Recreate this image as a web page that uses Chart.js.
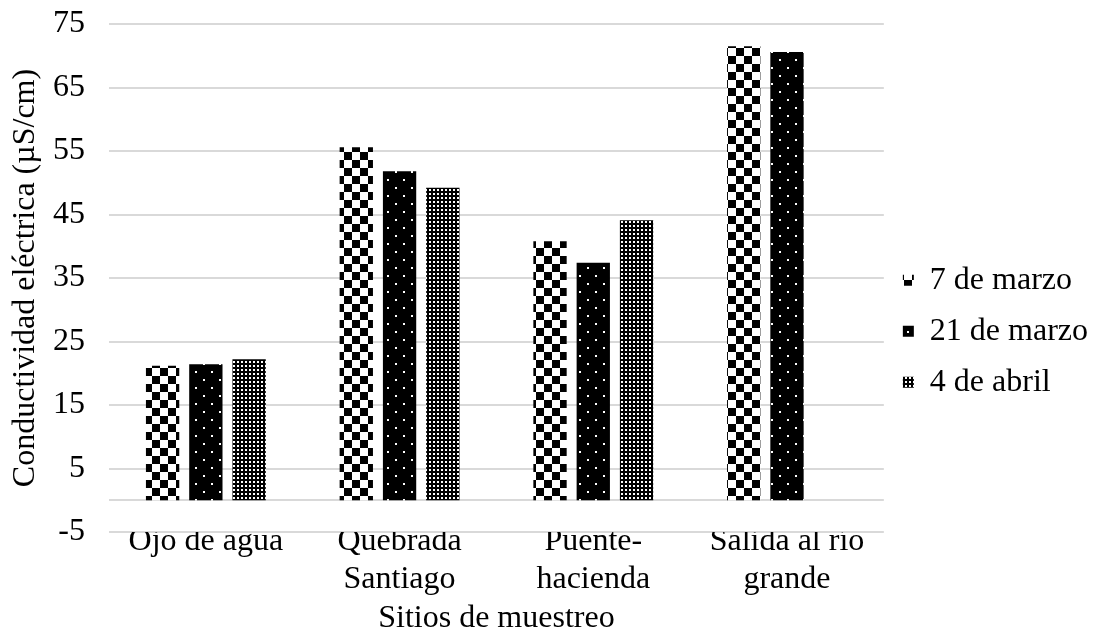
<!DOCTYPE html>
<html>
<head>
<meta charset="utf-8">
<script src="https://cdn.jsdelivr.net/npm/chart.js@4.4.1/dist/chart.umd.min.js"></script>
<style>
  html, body { margin: 0; padding: 0; background: #ffffff; }
  canvas { display: block; }
</style>
</head>
<body>
<canvas id="chart" width="1098" height="634"></canvas>
<script>
// Sampling sites along the stream
const sites = ['Ojo de agua', ['Quebrada', 'Santiago'], ['Puente-', 'hacienda'], ['Salida al río', 'grande']];

// Electrical conductivity (µS/cm) per sampling date
const march7 = [21.2, 55.6, 40.8, 71.5];
const march21 = [21.4, 51.8, 37.4, 70.6];
const april4 = [22.2, 49.2, 44.1, null];
const seriesNames = ['7 de marzo', '21 de marzo', '4 de abril'];

// Value axis range and tick step
const yMin = -5;
const yMax = 75;
const yStep = 10;

const FONT = "'Liberation Serif', 'Times New Roman', serif";
const SIZE = 32;
const GRID = '#d9d9d9';

const canvas = document.getElementById('chart');
const ctx = canvas.getContext('2d');

// Monochrome fill patterns for the three dates
function makePattern(size, paint) {
  const tile = document.createElement('canvas');
  tile.width = size;
  tile.height = size;
  const g = tile.getContext('2d');
  paint(g, size);
  return ctx.createPattern(tile, 'repeat');
}

const checker = makePattern(16, (g) => {
  g.fillStyle = '#ffffff';
  g.fillRect(0, 0, 16, 16);
  g.fillStyle = '#000000';
  g.fillRect(0, 0, 8, 8);
  g.fillRect(8, 8, 8, 8);
});

const dotted = makePattern(16, (g) => {
  g.fillStyle = '#000000';
  g.fillRect(0, 0, 16, 16);
  g.fillStyle = '#ffffff';
  g.fillRect(3, 3, 2, 2);
  g.fillRect(11, 11, 2, 2);
});

const mesh = makePattern(4, (g) => {
  g.fillStyle = '#000000';
  g.fillRect(0, 0, 4, 4);
  g.fillStyle = '#ffffff';
  g.fillRect(1, 1, 2, 2);
});

// Horizontal axis line at zero, beneath the bars
const zeroLine = {
  id: 'zeroLine',
  beforeDatasetsDraw(chart) {
    const { ctx: c, chartArea, scales } = chart;
    const y = Math.round(scales.y.getPixelForValue(0));
    c.save();
    c.strokeStyle = GRID;
    c.lineWidth = 2;
    c.beginPath();
    c.moveTo(chartArea.left, y);
    c.lineTo(chartArea.right, y);
    c.stroke();
    c.restore();
  }
};

new Chart(ctx, {
  type: 'bar',
  data: {
    labels: sites,
    datasets: [
      { label: seriesNames[0], data: march7, backgroundColor: checker, borderWidth: 0 },
      { label: seriesNames[1], data: march21, backgroundColor: dotted, borderWidth: 0 },
      { label: seriesNames[2], data: april4, backgroundColor: mesh, borderWidth: 0 }
    ]
  },
  options: {
    responsive: false,
    animation: false,
    events: [],
    categoryPercentage: 0.67,
    barPercentage: 0.77,
    layout: { padding: { top: 24, right: 0, bottom: 0, left: 0 } },
    plugins: {
      tooltip: { enabled: false },
      legend: {
        position: 'right',
        align: 'start',
        title: { display: true, text: ' ', font: { size: 1 }, padding: { top: 220, bottom: 0 } },
        labels: {
          boxWidth: 11,
          boxHeight: 11,
          padding: 19,
          color: '#000000',
          font: { family: FONT, size: SIZE }
        }
      }
    },
    scales: {
      x: {
        grid: { display: false, drawTicks: false },
        border: { display: false },
        ticks: {
          color: '#000000',
          font: { family: FONT, size: SIZE, lineHeight: 1.2 },
          padding: -10,
          maxRotation: 0,
          autoSkip: false
        },
        title: {
          display: true,
          text: 'Sitios de muestreo',
          color: '#000000',
          font: { family: FONT, size: SIZE },
          padding: { top: 0, bottom: -4 }
        },
        afterFit(scale) { scale.height = 102; }
      },
      y: {
        min: yMin,
        max: yMax,
        grid: { color: GRID, lineWidth: 2, drawTicks: false },
        border: { display: false },
        ticks: {
          stepSize: yStep,
          color: '#000000',
          font: { family: FONT, size: SIZE },
          padding: 24
        },
        title: {
          display: true,
          text: 'Conductividad eléctrica (µS/cm)',
          color: '#000000',
          font: { family: FONT, size: SIZE },
          padding: { top: 6, bottom: 0 }
        },
        afterFit(scale) {
          scale.width = 109;
          scale.paddingTop = 0;
          scale.paddingBottom = 0;
        }
      }
    }
  },
  plugins: [zeroLine]
});
</script>
</body>
</html>
